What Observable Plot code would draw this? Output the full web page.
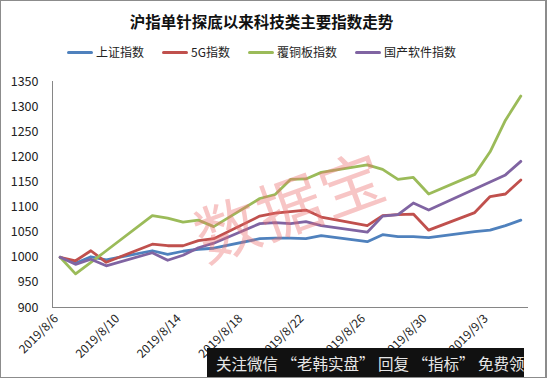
<!DOCTYPE html>
<html><head><meta charset="utf-8">
<script src="https://cdn.jsdelivr.net/npm/d3@7"></script>
<script src="https://cdn.jsdelivr.net/npm/@observablehq/plot@0.6"></script>
<style>
body{margin:0;background:#fff;}
#wrap{position:relative;width:547px;height:378px;overflow:hidden;font-family:"Noto Sans CJK SC","Noto Sans",sans-serif;background:#fff;}
#head{position:relative;height:68px;}
#title{position:absolute;left:0;top:10px;width:523px;text-align:center;font-size:15.5px;font-weight:700;line-height:22px;color:#111;}
#legend{position:absolute;left:67px;top:43px;display:flex;gap:18px;font-size:12px;line-height:18px;color:#222;}
.item{display:flex;align-items:center;}
.sw{width:26px;height:3px;border-radius:1.5px;margin-right:3px;}
#plot svg{display:block;}
#wm{position:absolute;left:190px;top:168px;font-size:64px;line-height:70px;color:rgba(236,110,110,0.4);transform:rotate(-20deg);transform-origin:center;pointer-events:none;letter-spacing:2px;}
#banner{position:absolute;left:207px;top:348px;width:317px;height:30px;background:#111;color:#e6e6e6;font-size:15.5px;line-height:30px;padding-left:9px;box-sizing:border-box;white-space:nowrap;}
#frame{position:absolute;left:0;top:0;width:547px;height:378px;box-sizing:border-box;border:1px solid #8c8c8c;border-right-width:2px;pointer-events:none;}
</style></head>
<body>
<div id="wrap">
  <div id="head"><div id="title"></div><div id="legend"></div></div>
  <div id="plot"></div>
  <div id="wm">数据宝</div>
  <div id="banner">关注微信 “老韩实盘” 回复 “指标” 免费领</div>
  <div id="frame"></div>
</div>
<script>
const title = "沪指单针探底以来科技类主要指数走势";
const dates = ["2019-08-06","2019-08-07","2019-08-08","2019-08-09","2019-08-12","2019-08-13","2019-08-14","2019-08-15","2019-08-16","2019-08-19","2019-08-20","2019-08-21","2019-08-22","2019-08-23","2019-08-26","2019-08-27","2019-08-28","2019-08-29","2019-08-30","2019-09-02","2019-09-03","2019-09-04","2019-09-05"];
const seriesNames = ["上证指数","5G指数","覆铜板指数","国产软件指数"];
const seriesColors = ["#4F81BD","#C0504D","#9BBB59","#8064A2"];
const shanghai = [1000,988,1001,995,1013,1006,1012,1016,1018,1037,1038,1038,1037,1043,1031,1045,1041,1041,1039,1051,1054,1063,1074];
const g5 = [1000,993,1013,990,1026,1023,1023,1033,1037,1082,1088,1091,1094,1080,1063,1083,1085,1086,1054,1089,1121,1126,1154];
const ccl = [1000,967,990,1013,1083,1078,1070,1074,1061,1117,1125,1155,1156,1169,1184,1175,1155,1159,1126,1165,1210,1273,1321];
const software = [1000,986,996,983,1009,994,1004,1019,1028,1067,1069,1067,1071,1063,1050,1082,1085,1108,1094,1136,1150,1164,1191];
const yTicks = [900,950,1000,1050,1100,1150,1200,1250,1300,1350];
const xTicks = ["2019-08-06","2019-08-10","2019-08-14","2019-08-18","2019-08-22","2019-08-26","2019-08-30","2019-09-03"];
const xDomain = ["2019-08-05T12:00Z","2019-09-05T12:00Z"];

document.getElementById("title").textContent = title;
const leg = document.getElementById("legend");
seriesNames.forEach((n,i)=>{
  const it = document.createElement("div"); it.className="item";
  const sw = document.createElement("div"); sw.className="sw"; sw.style.background=seriesColors[i];
  const t = document.createElement("span"); t.textContent=n;
  it.appendChild(sw); it.appendChild(t); leg.appendChild(it);
});

const allSeries = [shanghai, g5, ccl, software];
const rows = [];
allSeries.forEach((vals,si)=>vals.forEach((v,i)=>rows.push({date:new Date(dates[i]), value:v, series:seriesNames[si]})));
const fmt = d => `${d.getUTCFullYear()}/${d.getUTCMonth()+1}/${d.getUTCDate()}`;

const chart = Plot.plot({
  width: 547, height: 310,
  marginLeft: 52, marginRight: 19, marginTop: 13, marginBottom: 71,
  style: {fontFamily: '"Noto Sans CJK SC","Noto Sans",sans-serif', fontSize: "12px", color: "#222", background: "#fff"},
  x: {type: "utc", domain: xDomain.map(s=>new Date(s))},
  y: {domain: [900, 1350]},
  color: {domain: seriesNames, range: seriesColors},
  marks: [
    Plot.axisY({ticks: yTicks, tickFormat: d => String(d), tickSize: 0, tickPadding: 14, label: null, fontSize: 12.5}),
    Plot.axisX({ticks: xTicks.map(s=>new Date(s)), tickFormat: fmt, tickSize: 0, tickPadding: 9, tickRotate: -45, label: null, fontSize: 12, dx: -4}),
    Plot.ruleX([new Date(xDomain[0])], {y1: 900, y2: 1350, stroke: "#868686", strokeWidth: 1}),
    Plot.ruleY([900], {stroke: "#868686", strokeWidth: 1}),
    Plot.line(rows, {x: "date", y: "value", z: "series", stroke: "series", strokeWidth: 2.8, strokeLinejoin: "round", strokeLinecap: "round"})
  ]
});
document.getElementById("plot").appendChild(chart);
</script>
</body></html>
